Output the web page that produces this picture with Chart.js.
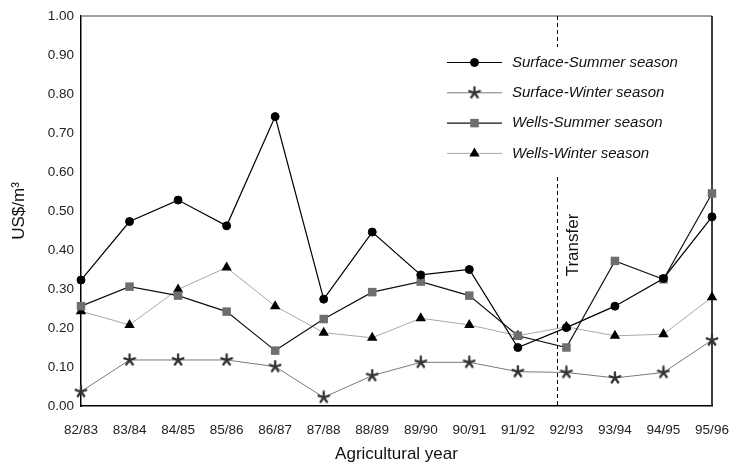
<!DOCTYPE html>
<html lang="en">

<head>
    <meta charset="UTF-8">
    <title>Water cost per season</title>
    <script src="https://cdnjs.cloudflare.com/ajax/libs/Chart.js/4.4.0/chart.umd.min.js"></script>
    <style>
        body { margin: 0; background: #fff; }
        .chart-container { position: relative; width: 731px; height: 466px; }
    </style>
</head>

<body>
    <div class="chart-container">
        <canvas id="costChart"></canvas>
    </div>

    <script>
        const years = ['82/83', '83/84', '84/85', '85/86', '86/87', '87/88', '88/89',
                       '89/90', '90/91', '91/92', '92/93', '93/94', '94/95', '95/96'];
        const surfaceSummer = [0.323, 0.473, 0.528, 0.462, 0.742, 0.274, 0.446, 0.336, 0.350, 0.150, 0.201, 0.256, 0.327, 0.485];
        const surfaceWinter = [0.037, 0.118, 0.118, 0.118, 0.101, 0.022, 0.078, 0.112, 0.112, 0.088, 0.086, 0.072, 0.086, 0.169];
        const wellsSummer = [0.256, 0.306, 0.283, 0.242, 0.142, 0.223, 0.292, 0.319, 0.283, 0.180, 0.150, 0.372, 0.325, 0.545];
        const wellsWinter = [0.243, 0.208, 0.299, 0.355, 0.256, 0.188, 0.175, 0.225, 0.208, 0.180, 0.203, 0.180, 0.184, 0.279];
        const yTicks = [0, 0.1, 0.2, 0.3, 0.4, 0.5, 0.6, 0.7, 0.8, 0.9, 1.0];
        const transferAt = 9.8; // between 91/92 and 92/93
        const transferLabel = 'Transfer';

        // asterisk marker for the surface winter series
        function makeAsterisk() {
            const c = document.createElement('canvas');
            c.width = 14;
            c.height = 14;
            const g = c.getContext('2d');
            g.strokeStyle = '#333';
            g.lineWidth = 2.3;
            g.lineCap = 'round';
            for (let i = 0; i < 5; i++) {
                const ang = (-90 + i * 72) * Math.PI / 180;
                g.beginPath();
                g.moveTo(7, 7);
                g.lineTo(7 + Math.cos(ang) * 5.5, 7 + Math.sin(ang) * 5.5);
                g.stroke();
            }
            return c;
        }
        const asterisk = makeAsterisk();

        const font = "'Liberation Sans', Arial, sans-serif";

        const overlay = {
            id: 'overlay',
            beforeDatasetsDraw(chart) {
                const { ctx, chartArea: a, scales: { x } } = chart;
                ctx.save();
                ctx.lineWidth = 1.5;
                ctx.strokeStyle = '#808080';
                ctx.beginPath();
                ctx.moveTo(a.left, a.top);
                ctx.lineTo(a.right, a.top);
                ctx.stroke();
                ctx.strokeStyle = '#000';
                ctx.beginPath();
                ctx.moveTo(a.right, a.top);
                ctx.lineTo(a.right, a.bottom);
                ctx.stroke();

                // transfer marker
                const tx = Math.round(x.getPixelForValue(transferAt)) + 0.5;
                ctx.lineWidth = 1;
                ctx.setLineDash([4, 3]);
                ctx.beginPath();
                ctx.moveTo(tx, a.top);
                ctx.lineTo(tx, a.top + 31);
                ctx.moveTo(tx, a.top + 161);
                ctx.lineTo(tx, a.bottom);
                ctx.stroke();
                ctx.setLineDash([]);

                ctx.translate(tx + 16, a.top + 229);
                ctx.rotate(-Math.PI / 2);
                ctx.fillStyle = '#111';
                ctx.font = '17px ' + font;
                ctx.textAlign = 'center';
                ctx.textBaseline = 'middle';
                ctx.fillText(transferLabel, 0, 0);
                ctx.restore();
            },
            afterDatasetsDraw(chart) {
                const { ctx, chartArea: a } = chart;
                ctx.save();
                chart.data.datasets.forEach((ds, i) => {
                    const y = a.top + 46.5 + i * 30.3;
                    const x0 = a.left + 366;
                    ctx.strokeStyle = ds.borderColor;
                    ctx.lineWidth = ds.borderWidth;
                    ctx.beginPath();
                    ctx.moveTo(x0, y);
                    ctx.lineTo(x0 + 55, y);
                    ctx.stroke();
                    ctx.fillStyle = ds.pointBackgroundColor;
                    ctx.strokeStyle = ds.pointBorderColor;
                    ctx.lineWidth = ds.pointBorderWidth;
                    Chart.helpers.drawPoint(ctx, {
                        pointStyle: ds.pointStyle,
                        radius: ds.pointRadius,
                        borderWidth: ds.pointBorderWidth,
                        rotation: 0
                    }, x0 + 27.5, y);
                    ctx.fillStyle = '#111';
                    ctx.font = 'italic 15px ' + font;
                    ctx.textAlign = 'left';
                    ctx.textBaseline = 'middle';
                    ctx.fillText(ds.label, x0 + 65, y);
                });
                ctx.restore();
            }
        };

        const ctx = document.getElementById('costChart').getContext('2d');
        const costChart = new Chart(ctx, {
            type: 'line',
            data: {
                labels: years,
                datasets: [{
                    label: 'Surface-Summer season',
                    data: surfaceSummer,
                    borderColor: '#000',
                    borderWidth: 1.2,
                    pointStyle: 'circle',
                    pointRadius: 4,
                    pointBorderWidth: 1,
                    pointBackgroundColor: '#000',
                    pointBorderColor: '#000',
                    clip: false
                }, {
                    label: 'Surface-Winter season',
                    data: surfaceWinter,
                    borderColor: '#7a7a7a',
                    borderWidth: 1,
                    pointStyle: asterisk,
                    pointRadius: 6,
                    pointBorderWidth: 0,
                    pointBackgroundColor: '#333',
                    pointBorderColor: '#333',
                    clip: false
                }, {
                    label: 'Wells-Summer season',
                    data: wellsSummer,
                    borderColor: '#111',
                    borderWidth: 1.2,
                    pointStyle: 'rect',
                    pointRadius: 6,
                    pointBorderWidth: 0,
                    pointBackgroundColor: '#6e6e6e',
                    pointBorderColor: '#6e6e6e',
                    clip: false
                }, {
                    label: 'Wells-Winter season',
                    data: wellsWinter,
                    borderColor: '#a8a8a8',
                    borderWidth: 1,
                    pointStyle: 'triangle',
                    pointRadius: 6,
                    pointBorderWidth: 0,
                    pointBackgroundColor: '#000',
                    pointBorderColor: '#000',
                    clip: false
                }]
            },
            options: {
                responsive: true,
                maintainAspectRatio: false,
                animation: false,
                layout: { padding: { top: 16, right: 19, left: 0, bottom: 0 } },
                plugins: {
                    legend: { display: false },
                    tooltip: { enabled: false }
                },
                elements: { line: { tension: 0 } },
                scales: {
                    x: {
                        offset: false,
                        grid: { display: false, drawTicks: false },
                        border: { color: '#000', width: 1.5 },
                        ticks: {
                            autoSkip: false,
                            maxRotation: 0,
                            padding: 16,
                            color: '#222',
                            font: { family: font, size: 13.5 }
                        },
                        title: {
                            display: true,
                            text: 'Agricultural year',
                            color: '#111',
                            padding: { top: 0, bottom: 1 },
                            font: { family: font, size: 17 }
                        },
                        afterFit(scale) {
                            scale.height = 60;
                            scale.paddingLeft = 0;
                            scale.paddingRight = 0;
                        }
                    },
                    y: {
                        min: 0,
                        max: 1,
                        grid: { display: false, drawTicks: false },
                        border: { color: '#000', width: 1.5 },
                        afterBuildTicks(scale) {
                            scale.ticks = yTicks.map(v => ({ value: v }));
                        },
                        ticks: {
                            padding: 7,
                            color: '#222',
                            font: { family: font, size: 13.5 },
                            callback: v => Number(v).toFixed(2)
                        },
                        title: {
                            display: true,
                            text: 'US$/m³',
                            color: '#111',
                            padding: { top: 9, bottom: 0 },
                            font: { family: font, size: 17 }
                        },
                        afterFit(scale) {
                            scale.width = 81;
                            scale.paddingTop = 0;
                            scale.paddingBottom = 0;
                        }
                    }
                }
            },
            plugins: [overlay]
        });
    </script>
</body>

</html>
